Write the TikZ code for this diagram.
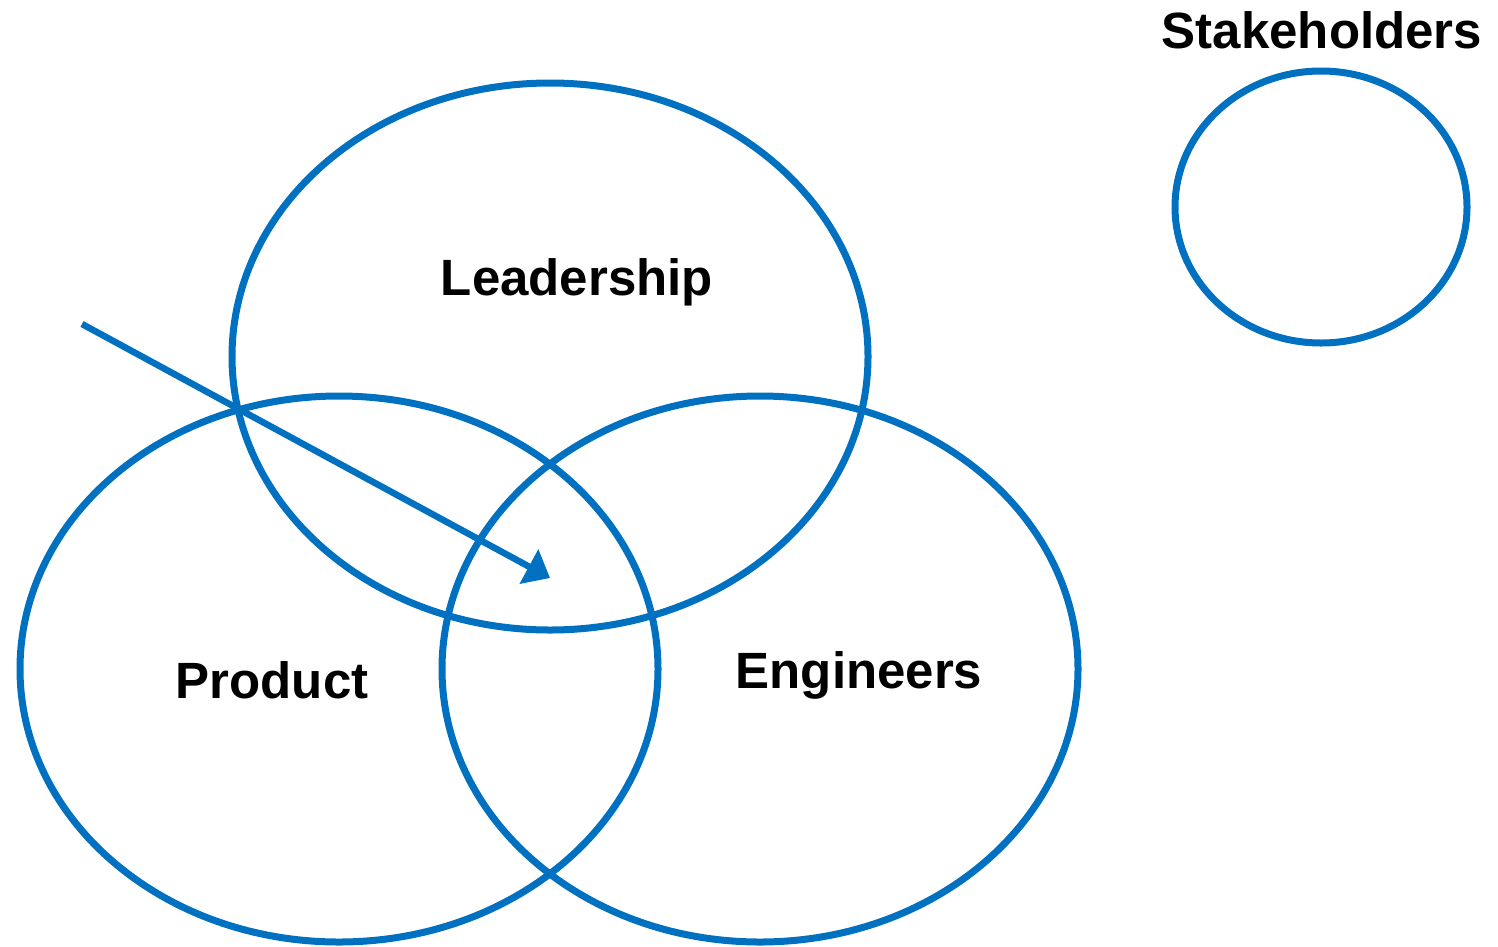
\documentclass[tikz,border=0pt]{standalone}
\usepackage{fontspec}
\setmainfont{Liberation Sans}
\usetikzlibrary{shapes.geometric,arrows.meta}
\definecolor{vblue}{HTML}{0070C0}
\begin{document}
\begin{tikzpicture}[x=1pt,y=-1pt,
  ring/.style={draw=vblue,line width=7pt,ellipse,inner sep=0pt,fill=none},
  lab/.style={font=\fontsize{51}{60}\selectfont\bfseries,text=black,anchor=base,inner sep=0pt}]
\useasboundingbox (0,0) rectangle (1498,946);
\node[ring,minimum width=636pt,minimum height=547pt] (lead) at (550,356.5) {};
\node[ring,minimum width=638pt,minimum height=546pt] (prod) at (339,669) {};
\node[ring,minimum width=636pt,minimum height=546pt] (eng) at (760,669) {};
\node[ring,minimum width=292pt,minimum height=272pt] (stake) at (1321,207) {};
\node[lab] (tlead) at (577,295) {Leadership};
\node[lab] (tprod) at (272,698) {Product};
\node[lab] (teng) at (859,688) {Engineers};
\node[lab] (tstake) at (1322,48) {Stakeholders};
\coordinate (start) at (82,324);
\coordinate (tip) at (550,578);
\draw[vblue,line width=6.5pt,-{Triangle[width=38pt,length=24pt]}] (start) -- (tip);
\end{tikzpicture}
\end{document}
